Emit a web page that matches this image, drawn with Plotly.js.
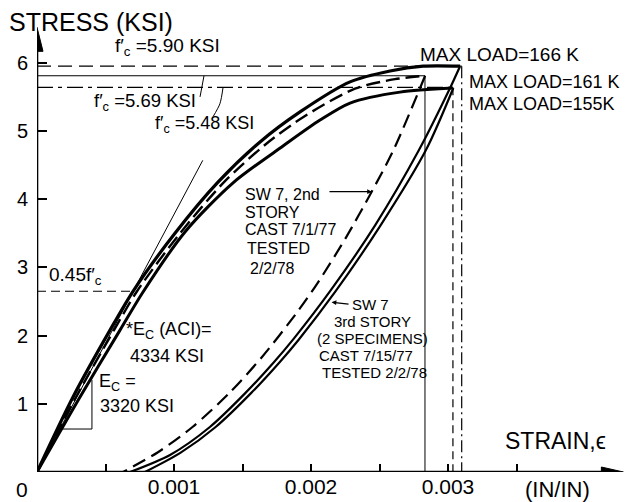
<!DOCTYPE html>
<html><head><meta charset="utf-8">
<script src="https://cdn.plot.ly/plotly-3.0.1.min.js"></script>
<style>html,body{margin:0;padding:0;background:#fff}</style>
</head><body><div id="chart" style="width:625px;height:502px"></div>
<script>
// ---- Data (strain in in/in, stress in ksi) ----
// 3rd story specimen, max load 166 K (loading + unloading)
const aLoadStrain = [0, 0.000263, 0.000533, 0.000701, 0.001007, 0.001321, 0.001628, 0.00192, 0.002285, 0.002577, 0.002818, 0.003088];
const aLoadStress = [0, 1.10, 2.08, 2.65, 3.50, 4.25, 4.84, 5.28, 5.72, 5.88, 5.95, 5.95];
const aUnloadStrain = [0.003088, 0.003008, 0.002788, 0.002469, 0.002146, 0.001876, 0.001729, 0.001522, 0.001262, 0.000971, 0.000679];
const aUnloadStress = [5.95, 5.60, 4.72, 3.62, 2.67, 1.96, 1.61, 1.16, 0.66, 0.25, 0];
// 2nd story specimen, max load 161 K (dashed)
const bLoadStrain = [0, 0.000285, 0.000562, 0.00073, 0.001044, 0.001365, 0.001672, 0.001956, 0.002321, 0.002613, 0.002832];
const bLoadStress = [0, 1.10, 2.08, 2.65, 3.50, 4.25, 4.81, 5.22, 5.62, 5.76, 5.81];
const bUnloadStrain = [0.002833, 0.002602, 0.002443, 0.002253, 0.002048, 0.001894, 0.001644, 0.001405, 0.001135, 0.000883, 0.000628];
const bUnloadStress = [5.81, 4.72, 4.11, 3.43, 2.77, 2.33, 1.69, 1.16, 0.66, 0.29, 0];
// 3rd story specimen, max load 155 K
const cLoadStrain = [0, 0.000314, 0.000606, 0.000774, 0.00108, 0.001431, 0.001796, 0.002066, 0.002285, 0.00265, 0.003036];
const cLoadStress = [0, 1.10, 2.08, 2.64, 3.52, 4.24, 4.78, 5.16, 5.41, 5.57, 5.63];
const cUnloadStrain = [0.003039, 0.002839, 0.002509, 0.002176, 0.00191, 0.001771, 0.001564, 0.001304, 0.001046, 0.000788];
const cUnloadStress = [5.63, 4.72, 3.62, 2.64, 1.94, 1.61, 1.16, 0.66, 0.28, 0];
// strength reference lines
const fcStress = [5.95, 5.81, 5.64];          // drawn levels of f'c 5.90 / 5.69 / 5.48
const fcStrain = [0.0031, 0.002832, 0.003036]; // strains at max load
// modulus construction lines
const aciSecantStrain = [0, 0.00121];
const aciSecantStress = [0, 4.57];
const ecTriStrain = [0.000182, 0.000401, 0.000401];
const ecTriStress = [0.63, 0.63, 1.35];
const f45Strain = [0, 0.0007];
const f45Stress = [2.65, 2.65];
const leader569Strain = [0.00119, 0.001205, 0.001219];
const leader569Stress = [5.50, 5.66, 5.81];
const leader548Strain = [0.001285, 0.001335, 0.001358];
const leader548Stress = [5.21, 5.40, 5.64];
// axis ticks
const xTickVals = [0.0005, 0.001, 0.0015, 0.002, 0.0025, 0.003, 0.0035];
const xTickText = ['', '0.001', '', '0.002', '', '0.003', ''];
const yTickVals = [1, 2, 3, 4, 5, 6];
const yTickText = ['1', '2', '3', '4', '5', '6'];

// ---- Layout helpers ----
const FONT = 'Liberation Sans, Arial, sans-serif';
const L = 37, T = 20, W = 588, H = 452; // plot area in px
function px(x) { return (x - L) / W; }
function py(y) { return (T + H - y) / H; }

function line(x, y, w, dash, spline) {
  return {x: x, y: y, mode: 'lines', type: 'scatter', hoverinfo: 'skip', showlegend: false,
    line: {color: '#000', width: w, dash: dash || 'solid', shape: spline ? 'spline' : 'linear', smoothing: 0.8}};
}

const traces = [
  line(aLoadStrain, aLoadStress, 3.2, 'solid', true),
  line(aUnloadStrain, aUnloadStress, 2.2, 'solid', true),
  line(cLoadStrain, cLoadStress, 3.0, 'solid', true),
  line(cUnloadStrain, cUnloadStress, 2.2, 'solid', true),
  line(bLoadStrain, bLoadStress, 2.4, '14px,6px', true),
  line(bUnloadStrain, bUnloadStress, 2.2, '14px,7px', true),
  // f'c = 5.90 (dashed) horizontal & vertical
  line([0, fcStrain[0]], [fcStress[0], fcStress[0]], 1.3, '14px,7px'),
  line([fcStrain[0], fcStrain[0]], [fcStress[0], 0], 1.2, '12px,4px,2px,4px'),
  // f'c = 5.69 (thin solid)
  line([0, fcStrain[1]], [fcStress[1], fcStress[1]], 1.0),
  line([fcStrain[1], fcStrain[1]], [fcStress[1], 0], 1.0),
  // f'c = 5.48 (dash-dot)
  line([0, fcStrain[2]], [fcStress[2], fcStress[2]], 1.2, '16px,5px,4px,5px'),
  line([fcStrain[2], fcStrain[2]], [fcStress[2], 0], 1.2, '8px,5px'),
  line(aciSecantStrain, aciSecantStress, 1.0),
  line(ecTriStrain, ecTriStress, 1.0),
  line(f45Strain, f45Stress, 1.2, '9px,5px'),
  line(leader569Strain, leader569Stress, 1.0, 'solid', true),
  line(leader548Strain, leader548Stress, 1.0, 'solid', true)
];

function txt(s, x, y, size, anchor) {
  return {text: s, xref: 'paper', yref: 'paper', x: px(x), y: py(y), xanchor: anchor || 'left', yanchor: 'middle',
    showarrow: false, font: {family: FONT, size: size, color: '#000'}};
}
function arrow(x0, y0, x1, y1) {
  return {text: '', xref: 'x', yref: 'y', axref: 'x', ayref: 'y', x: x1, y: y1, ax: x0, ay: y0,
    showarrow: true, arrowhead: 2, arrowsize: 0.8, arrowwidth: 1.2, arrowcolor: '#000'};
}

const annotations = [
  txt('STRESS (KSI)', 7, 22, 25),
  txt("f′<sub>c</sub> =5.90 KSI", 113, 47, 19),
  txt("f′<sub>c</sub> =5.69 KSI", 92, 102, 18.5),
  txt("f′<sub>c</sub> =5.48 KSI", 153, 124, 18),
  txt('MAX LOAD=166 K', 418, 54, 19),
  txt('MAX LOAD=161 K', 467, 82, 18),
  txt('MAX LOAD=155K', 467, 104, 18),
  txt('SW 7, 2nd', 243, 194, 16),
  txt('STORY', 243, 212, 16),
  txt('CAST 7/1/77', 243, 230, 16),
  txt('TESTED', 245, 249, 16),
  txt('2/2/78', 248, 268, 16),
  txt('SW 7', 350, 304, 15),
  txt('3rd STORY', 332, 321, 15),
  txt('(2 SPECIMENS)', 315, 338, 15),
  txt('CAST 7/15/77', 317, 355, 15),
  txt('TESTED 2/2/78', 320, 372, 15),
  txt('*E<sub>C</sub> (ACI)=', 124, 330, 18),
  txt('4334 KSI', 128, 356, 18),
  txt('E<sub>C</sub> =', 97, 382, 18),
  txt('3320 KSI', 98, 406, 18),
  txt("0.45f′<sub>c</sub>", 47, 276, 19),
  txt('0', 22, 489, 21, 'center'),
  txt('STRAIN,ϵ', 503, 441, 23),
  txt('(IN/IN)', 523, 489, 22),
  arrow(0.002124, 4.11, 0.002445, 4.11),
  arrow(0.002285, 2.46, 0.002150, 2.49)
];

const shapes = [
  {type: 'line', xref: 'x', yref: 'y', x0: 0, y0: 0, x1: 0, y1: 6.3, line: {color: '#000', width: 2.6}},
  {type: 'line', xref: 'x', yref: 'y', x0: 0, y0: 0, x1: 0.00415, y1: 0, line: {color: '#000', width: 2.6}},
  {type: 'path', xref: 'x', yref: 'y', xsizemode: 'pixel', ysizemode: 'pixel', xanchor: 0, yanchor: 6.52,
    path: 'M-6,-24 L6,-24 L0,0 Z', fillcolor: '#000', line: {color: '#000', width: 1}},
  {type: 'path', xref: 'x', yref: 'y', xsizemode: 'pixel', ysizemode: 'pixel', xanchor: 0.00428, yanchor: 0,
    path: 'M-22,-5 L-22,5 L0,0 Z', fillcolor: '#000', line: {color: '#000', width: 1}}
];

const layout = {
  width: 625, height: 502,
  margin: {l: L, r: 625 - L - W, t: T, b: 502 - T - H, pad: 0},
  paper_bgcolor: '#fff', plot_bgcolor: '#fff',
  showlegend: false,
  xaxis: {range: [0, W / 137000], showgrid: false, zeroline: false, showline: false,
    ticks: 'inside', ticklen: 8, tickwidth: 2, tickcolor: '#000',
    tickvals: xTickVals, ticktext: xTickText, tickfont: {family: FONT, size: 21, color: '#000'}},
  yaxis: {range: [0, H / 68.2], showgrid: false, zeroline: false, showline: false,
    ticks: 'inside', ticklen: 10, tickwidth: 2, tickcolor: '#000', ticklabelstandoff: 8,
    tickvals: yTickVals, ticktext: yTickText, tickfont: {family: FONT, size: 20, color: '#000'}},
  annotations: annotations,
  shapes: shapes
};

Plotly.newPlot('chart', traces, layout, {staticPlot: true, displayModeBar: false});
</script>
</body></html>
